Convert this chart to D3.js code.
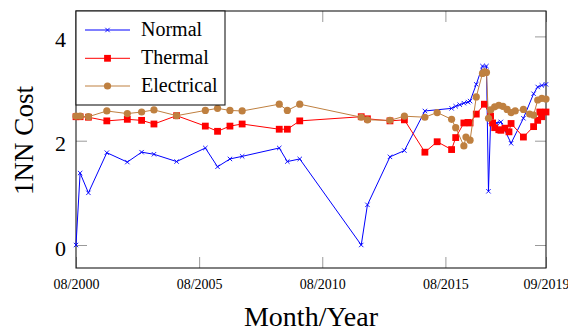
<!DOCTYPE html>
<html>
<head>
<meta charset="utf-8">
<script src="https://cdn.jsdelivr.net/npm/d3@7"></script>
<style>
  html, body { margin: 0; padding: 0; background: #fff; }
  svg { display: block; }
  text { font-family: "Liberation Serif", "DejaVu Serif", serif; fill: #000; }
</style>
</head>
<body>
<svg id="chart" width="568" height="331"></svg>
<script>
// 1NN cost over time for the three measurement groups
const normalDates = ["2000-08","2000-10","2001-02","2001-11","2002-09","2003-04","2003-10","2004-09","2005-11","2006-05","2006-11","2007-05","2008-11","2009-03","2009-09","2012-03","2012-06","2013-05","2013-12","2014-10","2015-11","2016-01","2016-03","2016-05","2016-07","2016-08","2016-11","2017-02","2017-04","2017-05","2017-06","2017-09","2017-11","2018-04","2018-10","2019-03","2019-05","2019-07","2019-09"];
const normalCost = [0.00,1.38,1.00,1.77,1.59,1.78,1.74,1.60,1.86,1.50,1.65,1.70,1.86,1.60,1.65,0.00,0.77,1.69,1.81,2.57,2.62,2.66,2.69,2.72,2.74,2.76,3.08,3.43,3.43,1.03,2.36,2.34,2.36,1.95,2.43,2.90,3.03,3.06,3.08];

const thermalDates = ["2000-08","2000-10","2001-02","2001-11","2002-09","2003-04","2003-10","2004-09","2005-11","2006-05","2006-11","2007-05","2008-11","2009-03","2009-09","2012-03","2012-06","2013-05","2013-12","2014-10","2015-04","2015-11","2016-01","2016-05","2016-07","2016-08","2016-11","2017-03","2017-06","2017-07","2017-08","2017-10","2017-11","2018-01","2018-03","2018-04","2018-10","2019-03","2019-05","2019-06","2019-07","2019-09"];
const thermalCost = [2.46,2.46,2.45,2.38,2.41,2.39,2.32,2.48,2.28,2.18,2.28,2.32,2.22,2.22,2.38,2.46,2.42,2.38,2.40,1.78,1.98,1.83,2.06,2.34,2.35,2.34,2.51,2.70,2.47,2.34,2.25,2.21,2.20,2.24,2.17,2.33,2.07,2.27,2.39,2.55,2.46,2.55];

const electricalDates = ["2000-08","2000-10","2001-02","2001-11","2002-09","2003-04","2003-10","2004-09","2005-11","2006-05","2006-11","2007-05","2008-11","2009-03","2009-09","2012-03","2012-06","2013-05","2013-12","2014-10","2015-04","2015-11","2016-01","2016-05","2016-06","2016-08","2016-11","2017-02","2017-03","2017-04","2017-05","2017-06","2017-08","2017-10","2017-12","2018-02","2018-04","2018-06","2018-10","2019-01","2019-03","2019-05","2019-07","2019-09"];
const electricalCost = [2.47,2.47,2.46,2.57,2.52,2.55,2.59,2.48,2.58,2.62,2.58,2.57,2.70,2.58,2.70,2.45,2.40,2.39,2.47,2.45,2.54,2.41,2.25,1.90,2.07,2.01,2.84,3.29,3.32,3.31,2.43,2.59,2.65,2.68,2.66,2.60,2.54,2.57,2.60,2.51,2.49,2.78,2.81,2.80];

const xTickDates = ["2000-08","2005-08","2010-08","2015-08","2019-09"];
const yTickValues = [0, 2, 4];
const seriesNames = ["Normal", "Thermal", "Electrical"];

const parseMonth = d3.timeParse("%Y-%m");
const fmtMonth = d3.timeFormat("%m/%Y");

const W = 568, H = 331;
const m = { left: 76, right: 22, top: 11, bottom: 63 };
const x0 = m.left, x1 = W - m.right, y0 = m.top, y1 = H - m.bottom;

const x = d3.scaleTime()
  .domain([parseMonth("2000-08"), parseMonth("2019-09")])
  .range([x0, x1]);
const y = d3.scaleLinear().domain([-0.441, 4.487]).range([y1, y0]);

const svg = d3.select("#chart");
const tickColor = "#8f8f8f";

function styleTicks(g) {
  g.select(".domain").remove();
  g.selectAll(".tick line").attr("stroke", tickColor).attr("stroke-width", 0.9);
}

// bottom axis with labels, ticks pointing inward
svg.append("g")
  .attr("transform", `translate(0,${y1})`)
  .call(d3.axisBottom(x).tickValues(xTickDates.map(parseMonth)).tickFormat(fmtMonth)
    .tickSizeInner(-11).tickSizeOuter(0).tickPadding(11))
  .call(styleTicks)
  .call(g => g.selectAll("text").attr("font-size", 14).attr("font-family", "Liberation Serif"));

// mirrored top axis
svg.append("g")
  .attr("transform", `translate(0,${y0})`)
  .call(d3.axisTop(x).tickValues(xTickDates.map(parseMonth)).tickFormat("")
    .tickSizeInner(-11).tickSizeOuter(0))
  .call(styleTicks);

// left axis with labels
svg.append("g")
  .attr("transform", `translate(${x0},0)`)
  .call(d3.axisLeft(y).tickValues(yTickValues).tickFormat(d3.format("d"))
    .tickSizeInner(-11).tickSizeOuter(0).tickPadding(10))
  .call(styleTicks)
  .call(g => g.selectAll("text").attr("font-size", 22).attr("font-family", "Liberation Serif").attr("dy", "0.46em"));

// mirrored right axis
svg.append("g")
  .attr("transform", `translate(${x1},0)`)
  .call(d3.axisRight(y).tickValues(yTickValues).tickFormat("")
    .tickSizeInner(-11).tickSizeOuter(0))
  .call(styleTicks);

// plot frame
svg.append("rect")
  .attr("x", x0).attr("y", y0).attr("width", x1 - x0).attr("height", y1 - y0)
  .attr("fill", "none").attr("stroke", "#1a1a1a").attr("stroke-width", 1.1);

// axis titles
svg.append("text")
  .attr("x", (x0 + x1) / 2).attr("y", 326)
  .attr("text-anchor", "middle").attr("font-size", 28)
  .text("Month/Year");
svg.append("text")
  .attr("transform", `translate(33,${(y0 + y1) / 2 + 1}) rotate(-90)`)
  .attr("text-anchor", "middle").attr("font-size", 27)
  .text("1NN Cost");

const series = [
  { name: seriesNames[0], color: "#0000ff", marker: "cross",
    data: normalDates.map((d, i) => ({ t: parseMonth(d), v: normalCost[i] })) },
  { name: seriesNames[1], color: "#ff0000", marker: "square",
    data: thermalDates.map((d, i) => ({ t: parseMonth(d), v: thermalCost[i] })) },
  { name: seriesNames[2], color: "#bf8040", marker: "circle",
    data: electricalDates.map((d, i) => ({ t: parseMonth(d), v: electricalCost[i] })) }
];

function drawMarker(g, type, color, cx, cy) {
  if (type === "cross") {
    const s = 2.2;
    g.append("path")
      .attr("d", `M${cx - s},${cy - s}L${cx + s},${cy + s}M${cx - s},${cy + s}L${cx + s},${cy - s}`)
      .attr("stroke", color).attr("stroke-width", 0.9).attr("fill", "none");
  } else if (type === "square") {
    const s = 3.4;
    g.append("rect").attr("x", cx - s).attr("y", cy - s).attr("width", 2 * s).attr("height", 2 * s)
      .attr("fill", color);
  } else {
    g.append("circle").attr("cx", cx).attr("cy", cy).attr("r", 3.6).attr("fill", color);
  }
}

const line = d3.line().x(d => x(d.t)).y(d => y(d.v));

series.forEach(s => {
  const g = svg.append("g").attr("class", "series");
  g.append("path").datum(s.data)
    .attr("d", line).attr("fill", "none")
    .attr("stroke", s.color).attr("stroke-width", 1)
    .attr("stroke-linejoin", "round");
  s.data.forEach(d => drawMarker(g, s.marker, s.color, x(d.t), y(d.v)));
});

// legend in the upper-left corner
const lg = svg.append("g");
lg.append("rect")
  .attr("x", x0).attr("y", y0).attr("width", 149).attr("height", 94)
  .attr("fill", "#fff").attr("stroke", "#1a1a1a").attr("stroke-width", 1.1);
const rowY = [30, 58.3, 86];
series.forEach((s, i) => {
  const ry = rowY[i];
  lg.append("line").attr("x1", 85).attr("x2", 130).attr("y1", ry).attr("y2", ry)
    .attr("stroke", s.color).attr("stroke-width", 1);
  drawMarker(lg, s.marker, s.color, 107.5, ry);
  lg.append("text").attr("x", 141).attr("y", ry + 5.5)
    .attr("font-size", 20).text(s.name);
});
</script>
</body>
</html>
